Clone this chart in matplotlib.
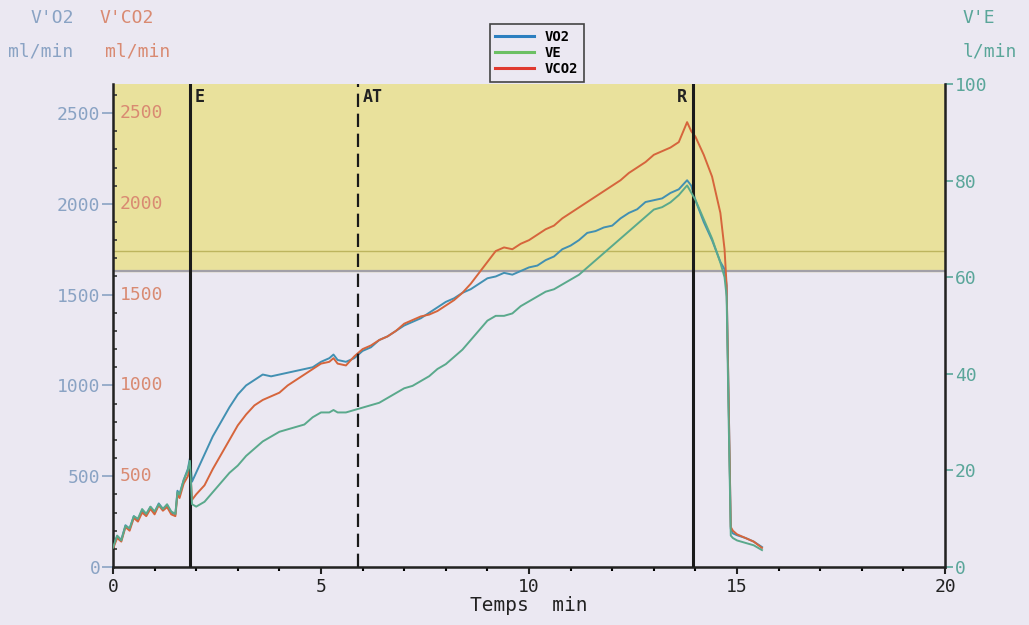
import matplotlib
matplotlib.use("Agg")
import matplotlib.pyplot as plt
from matplotlib.lines import Line2D
from matplotlib.ticker import MultipleLocator

# time, min
t_min = [0.0, 0.1, 0.2, 0.3, 0.4, 0.5, 0.6, 0.7, 0.8, 0.9,
         1.0, 1.1, 1.2, 1.3, 1.4, 1.5, 1.55, 1.6, 1.7, 1.8,
         1.85, 1.9, 2.0, 2.2, 2.4, 2.6, 2.8, 3.0, 3.2, 3.4,
         3.6, 3.8, 4.0, 4.2, 4.4, 4.6, 4.8, 5.0, 5.2, 5.3,
         5.4, 5.6, 5.8, 6.0, 6.2, 6.4, 6.6, 6.8, 7.0, 7.2,
         7.4, 7.6, 7.8, 8.0, 8.2, 8.4, 8.6, 8.8, 9.0, 9.2,
         9.4, 9.6, 9.8, 10.0, 10.2, 10.4, 10.6, 10.8, 11.0, 11.2,
         11.4, 11.6, 11.8, 12.0, 12.2, 12.4, 12.6, 12.8, 13.0, 13.2,
         13.4, 13.6, 13.8, 13.9, 14.0, 14.2, 14.4, 14.6, 14.7, 14.75,
         14.8, 14.85, 14.9, 15.0, 15.2, 15.4, 15.6]

# V'O2, ml/min
vo2 = [110, 170, 150, 230, 210, 280, 260, 310, 290, 330,
       300, 350, 320, 340, 300, 290, 420, 400, 480, 540,
       600, 470, 520, 620, 720, 800, 880, 950, 1000, 1030,
       1060, 1050, 1060, 1070, 1080, 1090, 1100, 1130, 1150, 1170,
       1140, 1130, 1150, 1190, 1210, 1250, 1270, 1300, 1330, 1350,
       1370, 1400, 1430, 1460, 1480, 1510, 1530, 1560, 1590, 1600,
       1620, 1610, 1630, 1650, 1660, 1690, 1710, 1750, 1770, 1800,
       1840, 1850, 1870, 1880, 1920, 1950, 1970, 2010, 2020, 2030,
       2060, 2080, 2130, 2100, 2020, 1900, 1800, 1680, 1640, 1550,
       900, 210, 185, 175, 160, 140, 110]

# V'CO2, ml/min
vco2 = [100, 160, 140, 220, 200, 270, 250, 300, 280, 320,
        290, 340, 310, 330, 290, 280, 400, 380, 460, 500,
        560, 370, 400, 450, 540, 620, 700, 780, 840, 890,
        920, 940, 960, 1000, 1030, 1060, 1090, 1120, 1130, 1150,
        1120, 1110, 1160, 1200, 1220, 1250, 1270, 1300, 1340, 1360,
        1380, 1390, 1410, 1440, 1470, 1510, 1560, 1620, 1680, 1740,
        1760, 1750, 1780, 1800, 1830, 1860, 1880, 1920, 1950, 1980,
        2010, 2040, 2070, 2100, 2130, 2170, 2200, 2230, 2270, 2290,
        2310, 2340, 2450, 2400, 2370, 2270, 2150, 1950, 1750, 1550,
        900, 220, 200, 180, 160, 140, 105]

# V'E, l/min
ve = [4, 6.5, 5.5, 8.5, 8, 10.5, 10, 12, 11, 12.5,
      11.5, 13, 12, 13, 11.5, 11, 15.5, 15, 18, 20,
      22, 13, 12.5, 13.5, 15.5, 17.5, 19.5, 21, 23, 24.5,
      26, 27, 28, 28.5, 29, 29.5, 31, 32, 32, 32.5,
      32, 32, 32.5, 33, 33.5, 34, 35, 36, 37, 37.5,
      38.5, 39.5, 41, 42, 43.5, 45, 47, 49, 51, 52,
      52, 52.5, 54, 55, 56, 57, 57.5, 58.5, 59.5, 60.5,
      62, 63.5, 65, 66.5, 68, 69.5, 71, 72.5, 74, 74.5,
      75.5, 77, 79, 77.5, 76, 72, 68, 63, 60, 56,
      30, 6.5, 6, 5.5, 5, 4.5, 3.5]

marker_t = [1.85, 5.89, 13.94]
marker_lbl = ["E", "AT", "R"]
marker_style = ["-", "--", "-"]

left_ticks = [0, 500, 1000, 1500, 2000, 2500]
right_ticks = [0, 20, 40, 60, 80, 100]
band_lo, band_mid = 1630, 1740
ymax_left = 2660

bg = "#ebe8f2"
c_vo2 = "#4290b2"
c_ve = "#5aa98c"
c_vco2 = "#d6653c"
c_lbl_o2 = "#8aa3c4"
c_lbl_co2 = "#d98a72"
c_lbl_ve = "#5aa69a"
mono = "DejaVu Sans Mono"

fig = plt.figure(figsize=(10.29, 6.25), dpi=100, facecolor=bg)
ax = fig.add_axes([0.1098, 0.0928, 0.8086, 0.7728])
ax.set_facecolor(bg)
ax2 = ax.twinx()

ax.set_xlim(0, 20)
ax.set_ylim(0, ymax_left)
ax2.set_ylim(0, 100 * ymax_left / 2660)

ax.axhspan(band_lo, ymax_left, color="#e9e19c", zorder=0)
ax.axhline(band_lo, color="#a2a0a8", lw=1.6, zorder=1)
ax.axhline(band_mid, color="#bdb55e", lw=1.0, zorder=1)

ax.plot(t_min, vo2, color=c_vo2, lw=1.4, zorder=3)
ax.plot(t_min, vco2, color=c_vco2, lw=1.4, zorder=3)
ax2.plot(t_min, ve, color=c_ve, lw=1.4, zorder=3)

for xm, lb, ls in zip(marker_t, marker_lbl, marker_style):
    ax.axvline(xm, color="#1a1a1a", lw=2.2 if ls == "-" else 1.6, ls=ls,
               dashes=(6, 3) if ls == "--" else (None, None), zorder=4)
    if lb == "R":
        ax.text(xm - 0.15, 2590, lb, ha="right", va="center", family=mono,
                fontsize=12, fontweight="bold", color="#222222")
    else:
        ax.text(xm + 0.12, 2590, lb, ha="left", va="center", family=mono,
                fontsize=12, fontweight="bold", color="#222222")

ax.spines["top"].set_visible(False)
ax2.spines["top"].set_visible(False)
ax.spines["left"].set_linewidth(1.8)
ax.spines["bottom"].set_linewidth(1.8)
ax2.spines["right"].set_linewidth(1.8)
for s in ["left", "bottom", "right"]:
    ax.spines[s].set_color("#222222")
    ax2.spines[s].set_color("#222222")

ax.set_xticks([0, 5, 10, 15, 20])
ax.xaxis.set_minor_locator(MultipleLocator(1))
ax.tick_params(axis="x", which="major", direction="out", length=5, width=1.5,
               labelsize=13, colors="#222222", pad=3)
ax.tick_params(axis="x", which="minor", direction="out", length=3, width=1.5)
for lab in ax.get_xticklabels():
    lab.set_family(mono)

ax.set_yticks(left_ticks)
ax.yaxis.set_minor_locator(MultipleLocator(100))
ax.tick_params(axis="y", which="major", direction="out", length=8, width=1.2,
               labelsize=13, labelcolor=c_lbl_o2, color=c_lbl_o2, pad=1)
ax.tick_params(axis="y", which="minor", direction="in", length=3, width=1.2,
               color="#333333")
for lab in ax.get_yticklabels():
    lab.set_family(mono)

# V'CO2 labels sit just inside the left spine
ytr = ax.get_yaxis_transform()
for v in left_ticks[1:]:
    ax.text(0.008, v, str(v), transform=ytr, ha="left", va="center",
            family=mono, fontsize=13, color=c_lbl_co2)

ax2.set_yticks(right_ticks)
ax2.tick_params(axis="y", direction="out", length=6, width=1.2,
                labelsize=13, labelcolor=c_lbl_ve, color=c_lbl_ve, pad=1)
for lab in ax2.get_yticklabels():
    lab.set_family(mono)

ax.set_xlabel("Temps  min", family=mono, fontsize=14, color="#222222",
              labelpad=0)

fig.text(0.030, 0.985, "V'O2", family=mono, fontsize=13, color=c_lbl_o2,
         va="top")
fig.text(0.097, 0.985, "V'CO2", family=mono, fontsize=13, color=c_lbl_co2,
         va="top")
fig.text(0.008, 0.932, "ml/min", family=mono, fontsize=13, color=c_lbl_o2,
         va="top")
fig.text(0.102, 0.932, "ml/min", family=mono, fontsize=13, color=c_lbl_co2,
         va="top")
fig.text(0.935, 0.985, "V'E", family=mono, fontsize=13, color=c_lbl_ve,
         va="top")
fig.text(0.935, 0.932, "l/min", family=mono, fontsize=13, color=c_lbl_ve,
         va="top")

handles = [Line2D([], [], color="#2c7fc0", lw=2.2),
           Line2D([], [], color="#6cc064", lw=2.2),
           Line2D([], [], color="#e03a30", lw=2.2)]
leg = fig.legend(handles, ["VO2", "VE", "VCO2"], loc="upper left",
                 bbox_to_anchor=(0.469, 0.972), frameon=True, fancybox=False,
                 prop={"family": mono, "size": 10, "weight": "bold"},
                 handlelength=2.8, labelspacing=0.15, borderpad=0.4,
                 handletextpad=0.8, edgecolor="#444444", facecolor=bg,
                 framealpha=1)
leg.get_frame().set_linewidth(1.2)
leg.set_zorder(10)

fig.savefig("out.png", dpi=100, facecolor=bg)
